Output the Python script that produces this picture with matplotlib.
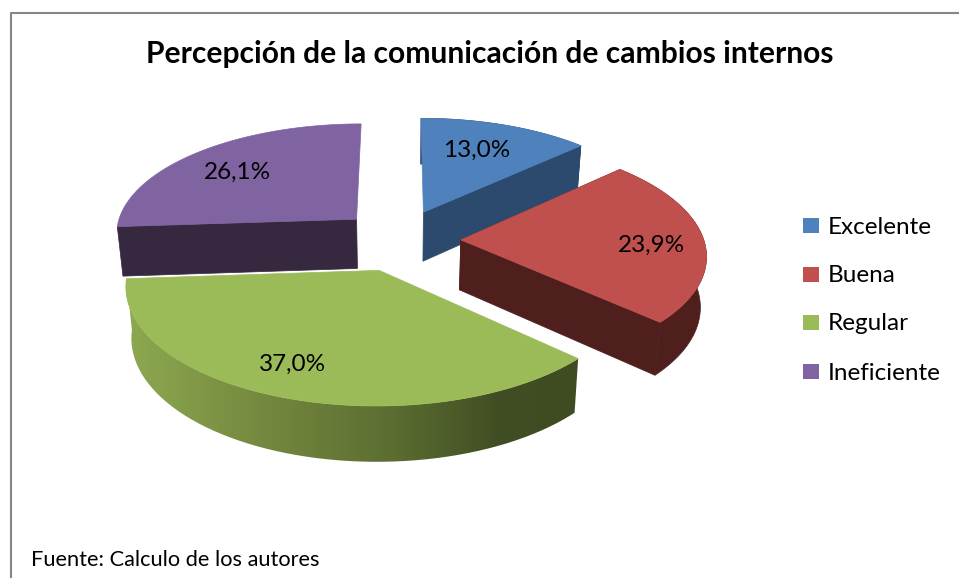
'''
Exploded 3D pie - Percepcion de la comunicacion de cambios internos
'''

# Imports
import numpy as np
import matplotlib
matplotlib.use('Agg')
import matplotlib.pyplot as plt
from matplotlib.colors import LinearSegmentedColormap
from matplotlib.patches import PathPatch, Polygon, Rectangle
from matplotlib.path import Path

# Data
TITLE = 'Percepción de la comunicación de cambios internos'
SOURCE = 'Fuente: Calculo de los autores'
CATEGORIES = ['Excelente', 'Buena', 'Regular', 'Ineficiente']
VALUES = [13.0, 23.9, 37.0, 26.1]

# Styles
COLORS_TOP = ['#4F81BD', '#C0504D', '#9BBB59', '#8064A2']
COLORS_SIDE = ['#2C4A6E', '#4E1F1D', '#3F4B22', '#36283F']
DRAW_ORDER = [0, 3, 1, 2]
LABEL_POS = [(477, 150), (651, 245), (293, 364), (237, 172)]
LEGEND_Y = [226, 275, 323, 372]
FONT = 'Lato'

# Projection of the pie disc onto the picture, in pixels
CX, CY = 400, 240
RX, RY = 243, 111.4
PERSP = 0.12
EXPLODE_U, EXPLODE_V = 0.25, 0.28
DEPTH = 50

W, H = 959, 578


# Util Functions
def Project(u, v):
    w = 1 + PERSP * v
    return CX + RX * u / w, CY - RY * v / w

def Extrude(x, y):
    return CX + (x - CX) * 0.98, y + DEPTH + (y - CY) * 0.035

def WedgeOutline(t0, t1):
    mid = (t0 + t1) / 2
    ou, ov = EXPLODE_U * np.sin(mid), EXPLODE_V * np.cos(mid)
    t = np.linspace(t0, t1, 120)
    ax_, ay_ = Project(ou, ov)
    ox, oy = Project(ou + np.sin(t), ov + np.cos(t))
    return (ax_, ay_), ox, oy


# Main
fig = plt.figure(figsize=(W / 100, H / 100), dpi=100)
ax = fig.add_axes([0, 0, 1, 1])
ax.set_xlim(0, W)
ax.set_ylim(H, 0)
ax.axis('off')

# Frame, only the left and top sides show in the crop
ax.plot([10.5, 10.5, W + 5], [H + 5, 12.5, 12.5], color='#868686', lw=1.5, zorder=1)

edges = np.radians(np.concatenate([[0], np.cumsum(VALUES)]) * 3.6)

z = 2
for i in DRAW_ORDER:
    apex, ox, oy = WedgeOutline(edges[i], edges[i + 1])
    bx, by = Extrude(ox, oy)
    apex_b = Extrude(*apex)
    side = COLORS_SIDE[i]

    # Cut faces, the ones running straight back and the front slice's cannot be seen
    for px, py, qx, qy in [(ox[0], oy[0], bx[0], by[0]), (ox[-1], oy[-1], bx[-1], by[-1])]:
        if abs(px - apex[0]) < 10 or CATEGORIES[i] == 'Regular':
            continue
        ax.add_patch(Polygon([apex, (px, py), (qx, qy), apex_b], closed=True, fc=side, ec=side, lw=0.5, zorder=z))

    # Outer face
    outer = np.column_stack([np.r_[ox, bx[::-1]], np.r_[oy, by[::-1]]])
    if CATEGORIES[i] == 'Regular':
        cmap = LinearSegmentedColormap.from_list('side', [(0, '#8DA950'), (0.3, '#74893F'), (0.6, '#5A6C30'), (0.82, '#414E23'), (1, '#3F4B21')])
        clip = PathPatch(Path(np.r_[outer, outer[:1]]), fc='none', ec='none', transform=ax.transData)
        ax.add_patch(clip)
        im = ax.imshow(np.linspace(0, 1, 256)[None, :], cmap=cmap, extent=(125, 580, 470, 270), aspect='auto', zorder=z, interpolation='bilinear')
        im.set_clip_path(clip)
        ax.set_xlim(0, W)
        ax.set_ylim(H, 0)
    elif CATEGORIES[i] != 'Ineficiente':
        ax.add_patch(Polygon(outer, closed=True, fc=side, ec=side, lw=0.5, zorder=z))

    # Top face
    top = np.column_stack([np.r_[apex[0], ox], np.r_[apex[1], oy]])
    ax.add_patch(Polygon(top, closed=True, fc=COLORS_TOP[i], ec=COLORS_TOP[i], lw=0.5, zorder=z + 0.5))
    z += 1

# Value labels
for v, (lx, ly) in zip(VALUES, LABEL_POS):
    ax.text(lx, ly, f'{v:.1f}'.replace('.', ',') + '%', ha='center', va='center', fontsize=17.5, family=FONT, color='black', zorder=20)

# Title and source
ax.text(490, 54, TITLE, ha='center', va='center', fontsize=21.6, family=FONT, fontweight='bold', color='black', zorder=20)
ax.text(31, 560, SOURCE, ha='left', va='center', fontsize=15.7, family=FONT, color='black', zorder=20)

# Legend
for name, col, ly in zip(CATEGORIES, COLORS_TOP, LEGEND_Y):
    ax.add_patch(Rectangle((803, ly - 8), 16, 15, fc=col, ec='none', zorder=20))
    ax.text(828, ly + 1, name, ha='left', va='center', fontsize=17.5, family=FONT, color='black', zorder=20)

fig.savefig('out.png', dpi=100)
